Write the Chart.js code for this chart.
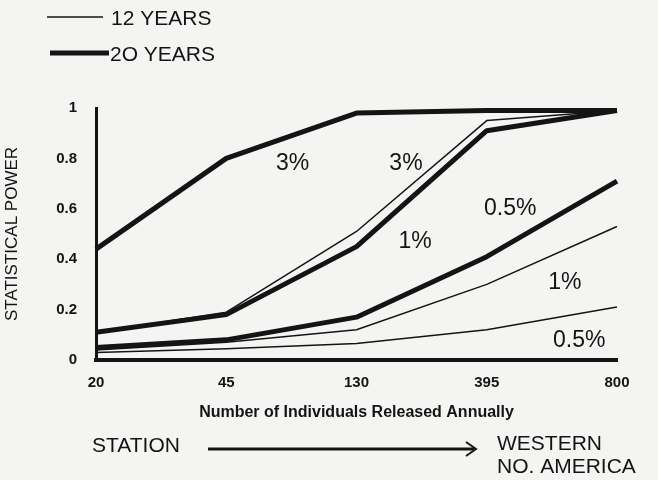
<!DOCTYPE html>
<html><head><meta charset="utf-8">
<script src="https://cdn.jsdelivr.net/npm/chart.js@4"></script>
<style>
html,body{margin:0;padding:0;background:#f4f4f3;}
#wrap{position:relative;width:658px;height:480px;}
canvas{display:block;}
</style>
</head><body>
<div id="wrap"><canvas id="c" width="658" height="480"></canvas></div>
<script>
// ---- data ----
const categories = ['20', '45', '130', '395', '800'];
const yr20_3pct  = [0.44, 0.80, 0.98, 0.99, 0.99];
const yr12_3pct  = [0.11, 0.19, 0.51, 0.95, 0.99];
const yr20_1pct  = [0.11, 0.18, 0.45, 0.91, 0.99];
const yr20_05pct = [0.05, 0.08, 0.17, 0.41, 0.71];
const yr12_1pct  = [0.04, 0.07, 0.12, 0.30, 0.53];
const yr12_05pct = [0.03, 0.045, 0.065, 0.12, 0.21];
const yTicks = [0, 0.2, 0.4, 0.6, 0.8, 1];
const legendLabels = ['12 YEARS', '2O YEARS'];
const rateLabels = ['3%', '3%', '0.5%', '1%', '1%', '0.5%'];
const rateLabelX = [1.51, 2.38, 3.18, 2.45, 3.60, 3.71];   // category index
const rateLabelY = [0.78, 0.78, 0.60, 0.47, 0.305, 0.075]; // power value

const INK = '#141414';
const THICK = 5, THIN = 1.5;
const FONT = "'Liberation Sans', Arial, sans-serif";

function ds(label, data, w) {
  return { label, data, borderColor: INK, borderWidth: w, pointRadius: 0,
           tension: 0, fill: false, borderJoinStyle: 'round', borderCapStyle: 'butt' };
}

const annotations = {
  id: 'annotations',
  afterDatasetsDraw(chart) {
    const { ctx, scales: { x, y } } = chart;
    ctx.save();
    ctx.fillStyle = INK;
    ctx.textBaseline = 'middle';
    ctx.textAlign = 'center';
    ctx.font = '23px ' + FONT;
    rateLabels.forEach((t, i) => {
      ctx.fillText(t, x.getPixelForValue(rateLabelX[i]), y.getPixelForValue(rateLabelY[i]));
    });
    ctx.restore();
  },
  afterDraw(chart) {
    const { ctx } = chart;
    ctx.save();
    ctx.strokeStyle = INK; ctx.fillStyle = INK;
    // legend
    ctx.lineWidth = THIN;
    ctx.beginPath(); ctx.moveTo(47, 17); ctx.lineTo(103, 17); ctx.stroke();
    ctx.lineWidth = 5;
    ctx.beginPath(); ctx.moveTo(50, 53); ctx.lineTo(109, 53); ctx.stroke();
    ctx.font = '21px ' + FONT;
    ctx.textAlign = 'left'; ctx.textBaseline = 'middle';
    ctx.fillText(legendLabels[0], 111, 19);
    ctx.fillText(legendLabels[1], 110, 55);
    // bottom arrow notes
    ctx.font = '21px ' + FONT;
    ctx.fillText('STATION', 92, 446);
    ctx.fillText('WESTERN', 497, 444);
    ctx.fillText('NO. AMERICA', 497, 467);
    ctx.lineWidth = 3;
    ctx.beginPath(); ctx.moveTo(208, 449); ctx.lineTo(474, 449); ctx.stroke();
    ctx.lineWidth = 2;
    ctx.beginPath(); ctx.moveTo(466, 442); ctx.lineTo(476, 449); ctx.lineTo(466, 456); ctx.stroke();
    ctx.restore();
  }
};

new Chart(document.getElementById('c'), {
  type: 'line',
  data: {
    labels: categories,
    datasets: [
      ds('20 YEARS 3%', yr20_3pct, THICK),
      ds('12 YEARS 3%', yr12_3pct, THIN),
      ds('20 YEARS 1%', yr20_1pct, THICK),
      ds('20 YEARS 0.5%', yr20_05pct, THICK),
      ds('12 YEARS 1%', yr12_1pct, THIN),
      ds('12 YEARS 0.5%', yr12_05pct, THIN)
    ]
  },
  options: {
    responsive: false,
    animation: false,
    devicePixelRatio: 1,
    layout: { padding: { top: 108, right: 41, bottom: 58, left: 0 } },
    plugins: { legend: { display: false }, tooltip: { enabled: false } },
    scales: {
      x: {
        offset: false,
        grid: { display: false },
        border: { display: true, color: INK, width: 4 },
        ticks: { color: INK, font: { family: FONT, size: 15, weight: 'bold' }, padding: 6, maxRotation: 0 },
        title: { display: true, text: 'Number of Individuals Released Annually', color: INK,
                 font: { family: FONT, size: 16, weight: 'bold' }, padding: { top: 0, bottom: 0 } },
        afterFit(s) { s.height = 480 - 58 - 360; }
      },
      y: {
        min: 0, max: 1,
        grid: { display: false },
        border: { display: true, color: INK, width: 3 },
        afterBuildTicks(s) { s.ticks = yTicks.map(v => ({ value: v })); },
        ticks: { color: INK, font: { family: FONT, size: 15, weight: 'bold' }, padding: 11,
                 callback: v => String(v) },
        title: { display: true, text: 'STATISTICAL POWER', color: INK,
                 font: { family: FONT, size: 17 }, padding: { top: 2 } },
        afterFit(s) { s.width = 96; }
      }
    }
  },
  plugins: [annotations]
});
</script>
</body></html>
